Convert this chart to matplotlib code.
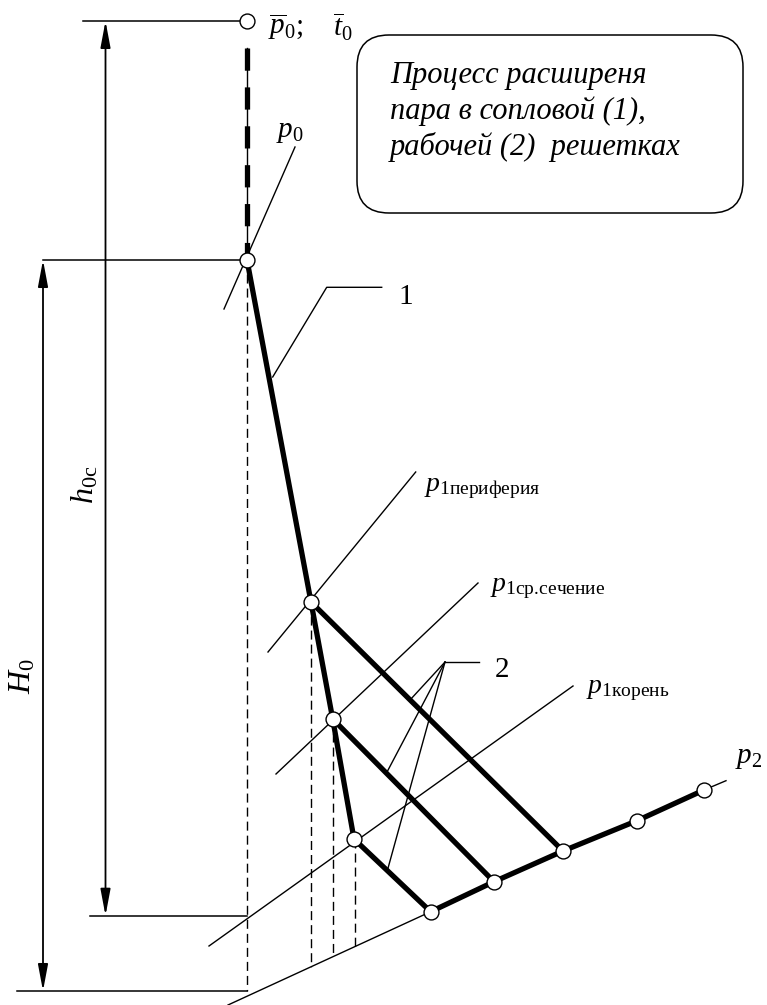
import matplotlib
matplotlib.use("Agg")
import matplotlib.pyplot as plt
from matplotlib.patches import FancyArrowPatch, FancyBboxPatch

plt.rcParams['font.family'] = ['Liberation Serif', 'DejaVu Serif']
plt.rcParams['mathtext.fontset'] = 'custom'
plt.rcParams['mathtext.rm'] = 'Liberation Serif'
plt.rcParams['mathtext.it'] = 'Liberation Serif:italic'
plt.rcParams['mathtext.bf'] = 'Liberation Serif:bold'
plt.rcParams['lines.scale_dashes'] = False

# ---------------- data (diagram coordinates: s to the right, h downward) -------------
# stagnation state  p0bar, t0bar
stag_s = [247.0]
stag_h = [21.0]
# nozzle expansion line 1: p0 -> p1 periphery -> p1 mean section -> p1 root
nozzle_s = [247.0, 311.0, 332.7, 354.0]
nozzle_h = [260.0, 602.0, 719.0, 839.0]
# p2 isobar (thin ends, thick middle)
p2_s = [228.0, 430.7, 494.0, 563.0, 637.0, 704.0, 726.0]
p2_h = [1005.0, 911.7, 881.7, 851.0, 820.7, 790.0, 780.7]
# rotor expansion lines 2: nozzle point index -> p2 point index
rotor_from = [1, 2, 3]
rotor_to = [3, 2, 1]
# isobars p0, p1 periphery, p1 mean, p1 root (end points)
iso_s0 = [224.0, 268.0, 276.0, 209.0]
iso_h0 = [309.0, 652.0, 774.0, 946.0]
iso_s1 = [295.0, 415.7, 478.0, 573.0]
iso_h1 = [147.0, 472.0, 583.0, 686.0]
# vertical projection lines (dashed)
proj_s = [247.0, 311.0, 332.7, 355.0]
proj_top = [260.0, 602.0, 719.0, 839.0]
proj_bot = [991.0, 967.0, 956.7, 947.0]
# dimension lines: h0c and H0
dim_h0c_x = 105.5
dim_h0c_top, dim_h0c_bot = 21.0, 915.7
dim_H0_x = 43.0
dim_H0_top, dim_H0_bot = 260.0, 991.0
# extension (horizontal) lines: y, x_from, x_to
ext_y = [21.0, 260.0, 915.7, 991.0]
ext_x0 = [83.0, 43.0, 90.0, 17.0]
ext_x1 = [241.0, 247.0, 247.0, 247.0]
# leader for "1"
lead1_s = [272.7, 326.7, 381.7]
lead1_h = [377.0, 287.3, 287.3]
# leaders for "2"
lead2_origin = (445.0, 662.0)
lead2_shelf = 479.0
lead2_ends_s = [410.0, 386.5, 387.5]
lead2_ends_h = [700.0, 773.0, 870.0]

box_lines = ["Процесс расширеня", "пара в сопловой (1),", "рабочей (2)  решетках"]
box_baselines = [83.0, 119.0, 155.0]

# ---------------- figure ----------------
fig = plt.figure(figsize=(7.67, 10.05), dpi=100)
ax = fig.add_axes([0, 0, 1, 1])
ax.set_xlim(0, 767)
ax.set_ylim(1005, 0)
ax.axis('off')

K = 'black'
thin = 1.0
thick = 3.8

# isobars
for a, b, c, d in zip(iso_s0, iso_h0, iso_s1, iso_h1):
    ax.plot([a, c], [b, d], color=K, lw=thin, zorder=2)

# p2 isobar thin full + thick middle
ax.plot(p2_s, p2_h, color=K, lw=thin, zorder=2)
ax.plot(p2_s[1:-1], p2_h[1:-1], color=K, lw=thick, solid_capstyle='butt', zorder=3)

# dashed projections
for x, t, b in zip(proj_s, proj_top, proj_bot):
    ax.plot([x, x], [t, b], color=K, lw=thin, linestyle=(0, (6.5, 3.6)), zorder=2)

# top thick dashed line (stagnation -> p0)
ax.plot([stag_s[0], stag_s[0]], [48, nozzle_h[0]], color=K, lw=thin, zorder=2)
ax.plot([stag_s[0], stag_s[0]], [48, nozzle_h[0]], color=K, lw=thick,
        linestyle=(0, (16, 12)), solid_capstyle='butt', dash_capstyle='butt', zorder=3)

# nozzle line 1
ax.plot(nozzle_s, nozzle_h, color=K, lw=thick, solid_joinstyle='miter', zorder=3)
# rotor lines 2
for i, j in zip(rotor_from, rotor_to):
    ax.plot([nozzle_s[i], p2_s[j]], [nozzle_h[i], p2_h[j]], color=K, lw=thick,
            solid_capstyle='butt', zorder=3)

# extension lines
for y, x0, x1 in zip(ext_y, ext_x0, ext_x1):
    ax.plot([x0, x1], [y, y], color=K, lw=1.1, zorder=2)

# dimension arrows
for x, t, b in [(dim_h0c_x, dim_h0c_top, dim_h0c_bot), (dim_H0_x, dim_H0_top, dim_H0_bot)]:
    arr = FancyArrowPatch((x, t), (x, b), arrowstyle='<|-|>,head_length=1.6,head_width=0.3',
                          mutation_scale=10, color=K, lw=1.3, shrinkA=0, shrinkB=0, zorder=2)
    ax.add_patch(arr)

# leaders
ax.plot(lead1_s, lead1_h, color=K, lw=thin, zorder=2)
ax.plot([lead2_origin[0], lead2_shelf], [lead2_origin[1], lead2_origin[1]], color=K, lw=thin, zorder=2)
for s, h in zip(lead2_ends_s, lead2_ends_h):
    ax.plot([lead2_origin[0], s], [lead2_origin[1], h], color=K, lw=thin, zorder=2)

# state circles
circ_s = stag_s + nozzle_s + p2_s[1:-1]
circ_h = stag_h + nozzle_h + p2_h[1:-1]
ax.scatter(circ_s, circ_h, s=115, facecolor='white', edgecolor=K, linewidths=1.0, zorder=5)

# text box
box = FancyBboxPatch((357, 35), 386, 178, boxstyle='round,pad=0,rounding_size=32',
                     facecolor='white', edgecolor=K, lw=1.1, zorder=4)
ax.add_patch(box)
for line, yb in zip(box_lines, box_baselines):
    ax.text(390, yb, line, fontsize=22, style='italic', ha='left', va='baseline', zorder=6)

# labels
ax.text(268, 27, r'$\overline{p}_0$;', fontsize=21, ha='left', va='center', zorder=6)
ax.text(333, 27, r'$\overline{t}_0$', fontsize=21, ha='left', va='center', zorder=6)
ax.text(276, 132, r'$p_0$', fontsize=21, ha='left', va='center', zorder=6)
ax.text(398, 297, '1', fontsize=21, ha='left', va='center', zorder=6)
ax.text(495, 670, '2', fontsize=21, ha='left', va='center', zorder=6)
ax.text(424, 488, r'$p_{1\mathrm{периферия}}$', fontsize=20, ha='left', va='center', zorder=6)
ax.text(490, 588, r'$p_{1\mathrm{ср.\!сечение}}$', fontsize=20, ha='left', va='center', zorder=6)
ax.text(586, 690, r'$p_{1\mathrm{корень}}$', fontsize=20, ha='left', va='center', zorder=6)
ax.text(735, 758, r'$p_2$', fontsize=21, ha='left', va='center', zorder=6)
ax.text(85, 485, r'$h_{0\mathrm{c}}$', fontsize=23, rotation=90, ha='center', va='center', zorder=6)
ax.text(23, 676, r'$H_0$', fontsize=23, rotation=90, ha='center', va='center', zorder=6)

fig.savefig('out.png', dpi=100, facecolor='white')
